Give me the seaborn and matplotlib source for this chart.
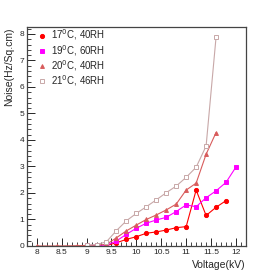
import numpy as np
import pandas as pd
import matplotlib
matplotlib.use("Agg")
import matplotlib.pyplot as plt
import seaborn as sns
from matplotlib.ticker import MultipleLocator

# Data
v17 = [9.4, 9.6, 9.8, 10.0, 10.2, 10.4, 10.6, 10.8, 11.0, 11.2, 11.4, 11.6, 11.8]
n17 = [0.02, 0.12, 0.25, 0.35, 0.48, 0.53, 0.60, 0.69, 0.73, 2.11, 1.15, 1.46, 1.71]

v19 = [9.0, 9.2, 9.4, 9.6, 9.8, 10.0, 10.2, 10.4, 10.6, 10.8, 11.0, 11.2, 11.4, 11.6, 11.8, 12.0]
n19 = [0.02, 0.02, 0.03, 0.19, 0.44, 0.67, 0.86, 0.98, 1.08, 1.30, 1.55, 1.48, 1.82, 2.08, 2.40, 2.98]

v20 = [8.0, 8.4, 8.8, 9.0, 9.2, 9.4, 9.6, 9.8, 10.0, 10.2, 10.4, 10.6, 10.8, 11.0, 11.2, 11.4, 11.6]
n20 = [0.0, 0.0, 0.01, 0.02, 0.03, 0.06, 0.31, 0.57, 0.79, 1.00, 1.17, 1.36, 1.58, 2.11, 2.37, 3.46, 4.28]

v21 = [9.0, 9.2, 9.4, 9.6, 9.8, 10.0, 10.2, 10.4, 10.6, 10.8, 11.0, 11.2, 11.4, 11.6]
n21 = [0.03, 0.05, 0.16, 0.58, 0.95, 1.23, 1.48, 1.74, 2.01, 2.26, 2.59, 2.97, 3.77, 7.88]

labels = ["17$^{0}$C, 40RH", "19$^{0}$C, 60RH", "20$^{0}$C, 40RH", "21$^{0}$C, 46RH"]

sns.set_style("ticks")
plt.rcParams['font.family'] = ['Liberation Sans', 'DejaVu Sans']

fig = plt.figure(figsize=(2.73, 2.73), dpi=100)
ax = fig.add_axes([0.099, 0.099, 0.801, 0.802])

series = [
    (v17, n17, labels[0], "#ff0000", "o", "#ff0000", 3.0),
    (v19, n19, labels[1], "#ff00ff", "s", "#ff00ff", 3.0),
    (v20, n20, labels[2], "#d85c5c", "^", "#d85c5c", 2.8),
    (v21, n21, labels[3], "#c8a8a8", "s", "white", 3.4),
]
for x, y, lab, col, mk, face, ms in series:
    df = pd.DataFrame({"Voltage": x, "Noise": y})
    sns.lineplot(data=df, x="Voltage", y="Noise", ax=ax, color=col, linewidth=0.8,
                 marker=mk, markersize=ms, markerfacecolor=face,
                 markeredgecolor=col, markeredgewidth=0.7, label=lab)

ax.set_xlim(7.805, 12.195)
ax.set_ylim(0, 8.26)
ax.xaxis.set_minor_locator(MultipleLocator(0.1))
ax.yaxis.set_major_locator(MultipleLocator(1))
ax.yaxis.set_minor_locator(MultipleLocator(0.2))
ax.set_xticks([8, 8.5, 9, 9.5, 10, 10.5, 11, 11.5, 12])
ax.set_xticklabels(["8", "8.5", "9", "9.5", "10", "10.5", "11", "11.5", "12"])
ax.tick_params(which="major", direction="in", length=6, width=0.7, labelsize=6, pad=2)
ax.tick_params(which="minor", direction="in", length=3, width=0.6)
for s in ax.spines.values():
    s.set_linewidth(0.9)
    s.set_color("#444444")

ax.set_xlabel("Voltage(kV)", fontsize=7.5, loc="right", labelpad=3)
ax.set_ylabel("Noise(Hz/Sq.cm)", fontsize=7.5, loc="top", labelpad=4)

leg = ax.legend(loc="upper left", frameon=False, fontsize=7, handlelength=0.8,
                handletextpad=0.5, labelspacing=0.05, borderaxespad=0.0,
                bbox_to_anchor=(0.035, 1.015))
for h in leg.legend_handles:
    h.set_linestyle("none")

fig.savefig("out.png", dpi=100)
